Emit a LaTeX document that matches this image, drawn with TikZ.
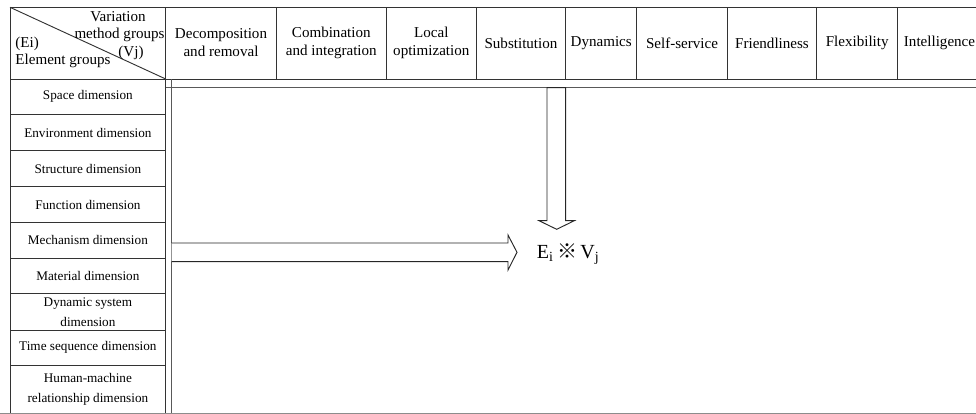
\documentclass[tikz,border=0pt]{standalone}
\usepackage{fontspec}
\setmainfont{Liberation Serif}
\newfontfamily\cjk{Noto Sans CJK SC}

\begin{document}
\begin{tikzpicture}[x=0.75pt, y=-0.75pt, line width=0.7pt,
        grid/.style={draw=black!80},
        double rule/.style={draw=black!65},
        headtext/.style={font=\fontsize{11.3}{13.5}\selectfont, align=center, inner sep=0pt},
        dimtext/.style={font=\fontsize{9.9}{15}\selectfont, align=center, inner sep=0pt},
        bigarrow/.style={draw=black!85, fill=white, line join=miter}]
    \useasboundingbox (0, 0) rectangle (976, 414);
    \clip (0, 0) rectangle (976, 414);

    % outer lines
    \draw[grid] (10, 7.3) -- (990, 7.3);
    \draw[grid] (10, 7.3) -- (10, 413.3);
    \draw[grid] (10, 79) -- (990, 79);
    \draw[double rule] (165.7, 87.7) -- (990, 87.7);
    \draw[grid] (165.7, 7.3) -- (165.7, 413.3);
    \draw[double rule] (171.7, 79) -- (171.7, 413.3);
    \draw[draw=black!45] (0, 413.3) -- (976, 413.3);

    % corner cell
    \draw[grid] (10, 7.3) -- (165.7, 79);
    \node[headtext, anchor=base] (var) at (118, 21.5) {Variation};
    \node[headtext, anchor=base] (meth) at (119.5, 38.5) {method groups};
    \node[headtext, anchor=base] (vj) at (131, 56) {(Vj)};
    \node[headtext, anchor=base west] (ei) at (15, 47) {(Ei)};
    \node[headtext, anchor=base west] (elem) at (15, 64.5) {Element groups};

    % method columns
    \draw[grid] (276, 7.3) -- (276, 79);
    \draw[grid] (386.7, 7.3) -- (386.7, 79);
    \draw[grid] (476, 7.3) -- (476, 79);
    \draw[grid] (565.7, 7.3) -- (565.7, 79);
    \draw[grid] (636.7, 7.3) -- (636.7, 79);
    \draw[grid] (727.3, 7.3) -- (727.3, 79);
    \draw[grid] (816.7, 7.3) -- (816.7, 79);
    \draw[grid] (897.7, 7.3) -- (897.7, 79);
    \node[headtext] (v1) at (221, 43) {Decomposition\\and removal};
    \node[headtext] (v2) at (331.3, 43) {Combination\\and integration};
    \node[headtext] (v3) at (431.3, 43) {Local\\optimization};
    \node[headtext] (v4) at (521, 43) {Substitution};
    \node[headtext] (v5) at (601.2, 43) {Dynamics};
    \node[headtext] (v6) at (682, 43) {Self-service};
    \node[headtext] (v7) at (772, 43) {Friendliness};
    \node[headtext] (v8) at (857.2, 43) {Flexibility};
    \node[headtext, anchor=west] (v9) at (903.5, 43) {Intelligence};

    % element rows
    \draw[grid] (10, 114.3) -- (165.7, 114.3);
    \draw[grid] (10, 150.7) -- (165.7, 150.7);
    \draw[grid] (10, 186.7) -- (165.7, 186.7);
    \draw[grid] (10, 222.3) -- (165.7, 222.3);
    \draw[grid] (10, 258.3) -- (165.7, 258.3);
    \draw[grid] (10, 293.7) -- (165.7, 293.7);
    \draw[grid] (10, 330) -- (165.7, 330);
    \draw[grid] (10, 365.7) -- (165.7, 365.7);
    \node[dimtext] (e1) at (87.9, 96.7) {Space dimension};
    \node[dimtext] (e2) at (87.9, 132.5) {Environment dimension};
    \node[dimtext] (e3) at (87.9, 168.7) {Structure dimension};
    \node[dimtext] (e4) at (87.9, 204.5) {Function dimension};
    \node[dimtext] (e5) at (87.9, 240.3) {Mechanism dimension};
    \node[dimtext] (e6) at (87.9, 276) {Material dimension};
    \node[dimtext] (e7) at (87.9, 311.8) {Dynamic system\\dimension};
    \node[dimtext] (e8) at (87.9, 347.8) {Time sequence dimension};
    \node[dimtext] (e9) at (87.9, 389.5) {Human-machine\\relationship dimension};

    % hollow arrows
    \draw[bigarrow] (547, 87.7) -- (547, 220.7) -- (539, 220.7) -- (556.7, 229.3)
        -- (574.3, 220.7) -- (565.7, 220.7) -- (565.7, 87.7) -- cycle;
    \draw[bigarrow] (171.7, 243) -- (508, 243) -- (508, 235) -- (517, 252.3)
        -- (508, 270) -- (508, 261.7) -- (171.7, 261.7);

    \node[font=\fontsize{15}{18}\selectfont, anchor=base west, inner sep=0pt] (eivj) at (536.5, 258.5)
        {E\textsubscript{i}\,{\cjk ※}\,V\textsubscript{j}};
\end{tikzpicture}
\end{document}
